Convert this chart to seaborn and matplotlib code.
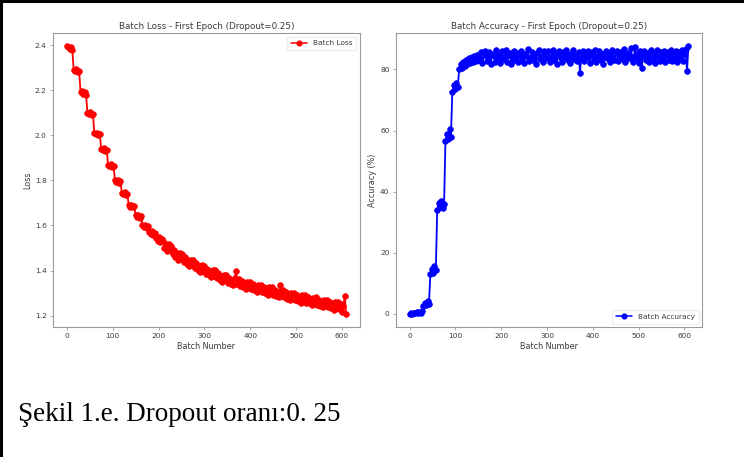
import matplotlib
matplotlib.use("Agg")
import matplotlib.pyplot as plt
import seaborn as sns
import pandas as pd
from matplotlib.lines import Line2D

# ---------------- data ----------------
batch_step = 3  # one value every 3 batches

loss_values = [
    2.395, 2.390, 2.385, 2.392, 2.380,
    2.290, 2.285, 2.292, 2.280, 2.286,
    2.190, 2.196, 2.185, 2.191, 2.180,
    2.100, 2.094, 2.102, 2.090, 2.096,
    2.010, 2.004, 2.012, 2.000, 2.006,
    1.940, 1.934, 1.942, 1.930, 1.936,
    1.870, 1.864, 1.872, 1.860, 1.866,
    1.800, 1.794, 1.802, 1.790, 1.796,
    1.745, 1.739, 1.747, 1.735, 1.741,
    1.690, 1.684, 1.692, 1.680, 1.686,
    1.645, 1.639, 1.647, 1.635, 1.641,
    1.600, 1.594, 1.602, 1.590, 1.596,
    1.572, 1.562, 1.575, 1.558, 1.566,
    1.545, 1.532, 1.548, 1.528, 1.538,
    1.532, 1.501, 1.516, 1.487, 1.516, 1.490, 1.511, 1.474, 1.493, 1.462,
    1.477, 1.448, 1.477, 1.451, 1.473, 1.438, 1.459, 1.429, 1.446, 1.419,
    1.449, 1.424, 1.447, 1.412, 1.432, 1.403, 1.420, 1.392, 1.423, 1.398,
    1.420, 1.386, 1.407, 1.379, 1.396, 1.370, 1.402, 1.377, 1.401, 1.366,
    1.388, 1.360, 1.377, 1.351, 1.382, 1.358, 1.382, 1.347, 1.369, 1.341,
    1.359, 1.334, 1.366, 1.400, 1.340, 1.364, 1.331, 1.353, 1.325, 1.343,
    1.318, 1.350, 1.326, 1.350, 1.317, 1.339, 1.312, 1.330, 1.305, 1.337,
    1.314, 1.338, 1.305, 1.327, 1.300, 1.318, 1.293, 1.325, 1.302, 1.326,
    1.293, 1.315, 1.288, 1.306, 1.281, 1.335, 1.290, 1.314, 1.281, 1.303,
    1.276, 1.294, 1.269, 1.301, 1.278, 1.302, 1.269, 1.291, 1.264, 1.283,
    1.257, 1.290, 1.267, 1.292, 1.258, 1.281, 1.254, 1.273, 1.247, 1.280,
    1.257, 1.282, 1.248, 1.271, 1.244, 1.262, 1.237, 1.270, 1.247, 1.271,
    1.238, 1.261, 1.234, 1.252, 1.227, 1.260, 1.237, 1.262, 1.229, 1.252,
    1.215, 1.244, 1.285, 1.208,
]

accuracy_values = [
    0.0, 0.2, 0.0, 0.4, 0.2, 0.5, 0.3, 0.6, 0.4, 0.8,
    2.5, 3.6, 2.8, 4.2, 3.2,
    13.0, 14.8, 13.5, 15.6, 14.2,
    34.0, 36.2, 35.0, 37.0, 34.5, 35.8,
    56.5, 59.0, 57.2, 60.4, 58.0,
    72.5, 74.8, 73.6, 75.5, 74.2,
    80.2, 81.8, 80.6, 82.6, 81.2, 83.0, 81.8, 83.6, 82.2, 84.0,
    82.6, 84.5, 82.8, 84.9, 83.1,
    83.2, 85.6, 82.1, 84.9, 86.0, 82.8, 84.3, 85.7, 81.9, 84.6,
    85.2, 82.5, 86.3, 83.7, 84.8, 82.2, 85.9, 83.4, 84.1, 86.4,
    82.6, 84.7, 85.5, 81.8, 84.0, 86.1, 83.1, 85.3, 82.4, 84.9,
    86.2, 83.5, 82.0, 85.1, 84.4, 86.6, 82.7, 84.2, 85.8, 83.0,
    84.7, 81.7, 85.4, 86.3, 83.3, 84.5, 82.3, 86.0, 84.8, 83.6,
    85.9, 82.6, 84.2, 86.5, 83.0, 85.2, 81.9, 84.7, 86.1, 83.8,
    82.4, 85.6, 84.0, 86.3, 83.2, 85.0, 82.1, 84.6, 86.4, 83.5,
    84.9, 82.7, 85.8, 79.0, 83.9, 86.2, 82.9, 85.3, 84.1, 86.0,
    82.2, 84.8, 85.7, 83.4, 86.5, 82.6, 84.4, 85.9, 83.1, 85.2,
    81.9, 84.6, 86.2, 83.7, 85.0, 82.4, 86.4, 84.1, 83.0, 85.5,
    86.1, 82.8, 84.5, 85.8, 83.3, 86.6, 82.5, 84.9, 85.3, 83.6,
    86.9, 84.2, 82.3, 87.3, 83.8, 85.4, 82.0, 85.9, 80.4, 84.7,
    86.0, 83.2, 85.5, 82.6, 84.8, 86.3, 83.5, 85.1, 82.2, 86.5,
    84.0, 82.8, 85.7, 83.9, 86.2, 82.5, 84.6, 85.8, 83.1, 86.4,
    82.7, 85.3, 84.2, 86.0, 82.4, 85.6, 83.7, 86.3, 82.9, 85.0,
    86.6, 79.4, 87.6,
]

titles = ["Batch Loss - First Epoch (Dropout=0.25)",
          "Batch Accuracy - First Epoch (Dropout=0.25)"]
y_labels = ["Loss", "Accuracy (%)"]
x_label = "Batch Number"
legend_labels = ["Batch Loss", "Batch Accuracy"]
caption = "Şekil 1.e. Dropout oranı:0. 25"

n = min(len(loss_values), len(accuracy_values))
batches = [i * batch_step for i in range(n)]
df = pd.DataFrame({"batch": batches,
                   "loss": loss_values[:n],
                   "acc": accuracy_values[:n]})

# ---------------- styling ----------------
sns.set_theme(style="white")
plt.rcParams["font.family"] = ["DejaVu Sans"]
txt = "#3a3a3a"
spine_c = "#9a9a9a"
ms = 4.1
lw = 1.3

fig = plt.figure(figsize=(7.44, 4.57), dpi=100)
ax1 = fig.add_axes([0.071, 0.284, 0.413, 0.644])
ax2 = fig.add_axes([0.532, 0.284, 0.412, 0.644])

sns.lineplot(data=df, x="batch", y="loss", ax=ax1, color="red",
             marker="o", markersize=ms, linewidth=lw,
             markeredgecolor="red", markeredgewidth=0.5, legend=False)
sns.lineplot(data=df, x="batch", y="acc", ax=ax2, color="blue",
             marker="o", markersize=ms, linewidth=lw,
             markeredgecolor="blue", markeredgewidth=0.5, legend=False)

for ax, title, ylab, lab, col, loc in [
        (ax1, titles[0], y_labels[0], legend_labels[0], "red", "upper right"),
        (ax2, titles[1], y_labels[1], legend_labels[1], "blue", "lower right")]:
    ax.set_title(title, fontsize=6.3, color=txt, pad=3)
    ax.set_xlabel(x_label, fontsize=5.8, color=txt, labelpad=1.5)
    ax.set_ylabel(ylab, fontsize=5.8, color=txt, labelpad=2)
    ax.set_xticks([0, 100, 200, 300, 400, 500, 600])
    ax.tick_params(axis="both", labelsize=5.3, colors=txt, length=2.5,
                   width=0.6, pad=2, color=spine_c, left=True, bottom=True)
    for s in ax.spines.values():
        s.set_color(spine_c)
        s.set_linewidth(0.8)
        s.set_visible(True)
    h = Line2D([], [], color=col, marker="o", markersize=3.4, linewidth=1.1,
               markeredgecolor=col)
    leg = ax.legend([h], [lab], loc=loc, fontsize=5.3, frameon=True,
                    edgecolor="#eeeeee", framealpha=1, handlelength=2.2,
                    borderpad=0.5)
    for t in leg.get_texts():
        t.set_color(txt)

ax1.set_yticks([1.2, 1.4, 1.6, 1.8, 2.0, 2.2, 2.4])
ax2.set_yticks([0, 20, 40, 60, 80])

# caption
fig.text(0.024, 0.079, caption, fontsize=19.5, family=["Liberation Serif"],
         color="black", va="baseline", ha="left")

# outer frame of the reference (left and top edges)
fig.add_artist(Line2D([0.002, 0.002], [0, 1], transform=fig.transFigure,
                      color="black", linewidth=2.2))
fig.add_artist(Line2D([0, 1], [0.997, 0.997], transform=fig.transFigure,
                      color="black", linewidth=2.2))

fig.savefig("out.png", dpi=100)
